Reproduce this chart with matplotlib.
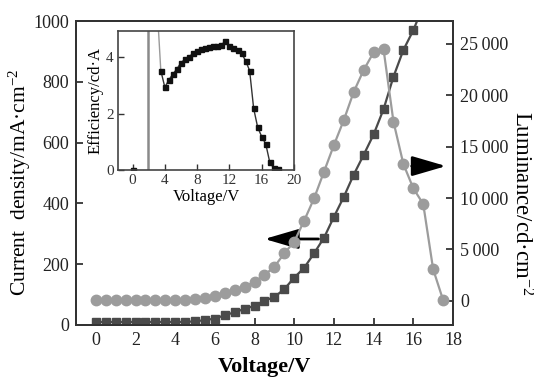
import matplotlib
matplotlib.use('Agg')
import matplotlib.pyplot as plt
from matplotlib.ticker import FuncFormatter

plt.rcParams['font.family'] = 'Liberation Serif'
plt.rcParams['mathtext.fontset'] = 'custom'
plt.rcParams['mathtext.rm'] = 'Liberation Serif'
plt.rcParams['mathtext.default'] = 'regular'

# data
voltage = [0.0, 0.5, 1.0, 1.5, 2.0, 2.5, 3.0, 3.5, 4.0, 4.5, 5.0, 5.5, 6.0, 6.5,
           7.0, 7.5, 8.0, 8.5, 9.0, 9.5, 10.0, 10.5, 11.0, 11.5, 12.0, 12.5,
           13.0, 13.5, 14.0, 14.5, 15.0, 15.5, 16.0, 16.5, 17.0, 17.5]
luminance = [100, 100, 100, 100, 100, 100, 100, 100, 100, 110, 170, 260, 490,
             750, 1070, 1390, 1870, 2520, 3330, 4630, 5760, 7800, 9970, 12560,
             15150, 17580, 20320, 22430, 24150, 24440, 17410, 13300, 10940,
             9420, 3080, 100]
current = [10, 10, 10, 10, 10, 10, 10, 10, 10, 10, 12, 16, 21, 32, 42, 53, 63,
           80, 92, 118, 156, 188, 236, 287, 356, 422, 495, 560, 627, 710, 817,
           905, 970, 1050]

# inset: efficiency
eff_v = [0.0, 3.5, 4.0, 4.5, 5.0, 5.5, 6.0, 6.5, 7.0, 7.5, 8.0, 8.5, 9.0, 9.5,
         10.0, 10.5, 11.0, 11.5, 12.0, 12.5, 13.0, 13.5, 14.0, 14.5, 15.0,
         15.5, 16.0, 16.5, 17.0, 17.5, 18.0]
eff = [0.0, 3.52, 2.93, 3.19, 3.40, 3.58, 3.80, 3.92, 4.01, 4.13, 4.22, 4.28,
       4.33, 4.37, 4.39, 4.40, 4.42, 4.58, 4.39, 4.33, 4.25, 4.13, 3.87, 3.52,
       2.18, 1.51, 1.18, 0.92, 0.27, 0.06, 0.03]
# the spike near turn-on (goes far off the top)
spike_v = [1.9, 1.9, 3.0, 3.5]
spike_eff = [0.0, 60.0, 6.0, 3.52]

fig = plt.figure(figsize=(5.34, 3.77), dpi=100)
ax = fig.add_axes([0.1423, 0.138, 0.706, 0.806])
ax2 = ax.twinx()

ax.plot(voltage[:len(current)], current, marker='s', color='#4a4a4a', ms=6.3,
        lw=1.6)
ax2.plot(voltage, luminance, marker='o', color='#9c9c9c', ms=7.5, lw=1.6)

ax.set_xlim(-1, 18)
ax.set_ylim(0, 1000)
ax2.set_ylim(-2330, 27180)
ax.set_xticks(range(0, 19, 2))
ax.set_yticks(range(0, 1001, 200))
ax2.set_yticks(range(0, 25001, 5000))
ax2.yaxis.set_major_formatter(FuncFormatter(
    lambda v, p: f'{int(v):,}'.replace(',', '\u2009')))

for a in (ax, ax2):
    for s in a.spines.values():
        s.set_color('#333333')
        s.set_linewidth(1.4)
ax.tick_params(direction='in', length=5, width=1.2, labelsize=13, pad=5,
               colors='#222222')
ax2.tick_params(direction='in', length=5, width=1.2, labelsize=13, pad=5,
                colors='#222222')

ax.set_xlabel('Voltage/V', fontsize=16, fontweight='bold', labelpad=6)
ax.set_ylabel('Current  density/mA·cm$^{-2}$', fontsize=15.5, va='center')
ax.yaxis.set_label_coords(-0.148, 0.47)
ax2.set_ylabel('Luminance/cd·cm$^{-2}$', fontsize=16.5, rotation=270,
               va='center')
ax2.yaxis.set_label_coords(1.18, 0.40)

# arrows pointing to the axes each curve belongs to
ax.annotate('', xy=(8.5, 283), xytext=(11.5, 283),
            arrowprops=dict(arrowstyle='-|>,head_length=1.3,head_width=0.38',
                            mutation_scale=16, lw=2, color='black',
                            shrinkA=4, shrinkB=0))
ax2.annotate('', xy=(17.65, 13100), xytext=(15.5, 13100),
             arrowprops=dict(arrowstyle='-|>,head_length=1.3,head_width=0.38',
                             mutation_scale=16, lw=2, color='black',
                             shrinkA=6, shrinkB=0))

# inset
ins = fig.add_axes([0.221, 0.549, 0.3296, 0.3687])
ins.plot(spike_v[:2], spike_eff[:2], color='#8a8a8a', lw=1.8)
ins.plot(spike_v[2:], spike_eff[2:], color='#9a9a9a', lw=1.0)
ins.plot(eff_v[1:], eff[1:], marker='s', color='#333333', ms=3.6, lw=1.0,
         mfc='#111111', mec='#111111')
ins.plot(eff_v[:1], eff[:1], marker='s', ms=3.6, color='#111111')
ins.set_xlim(-1.8, 20)
ins.set_ylim(0, 4.92)
ins.set_xticks(range(0, 21, 4))
ins.set_yticks([0, 2, 4])
for s in ins.spines.values():
    s.set_color('#444444')
    s.set_linewidth(1.2)
ins.tick_params(direction='in', length=4, width=1, labelsize=11, pad=3,
                colors='#333333')
ins.set_xlabel('Voltage/V', fontsize=12, labelpad=1)
ins.set_ylabel('Efficiency/cd·A', fontsize=12, labelpad=2)

fig.savefig('out.png', dpi=100)
